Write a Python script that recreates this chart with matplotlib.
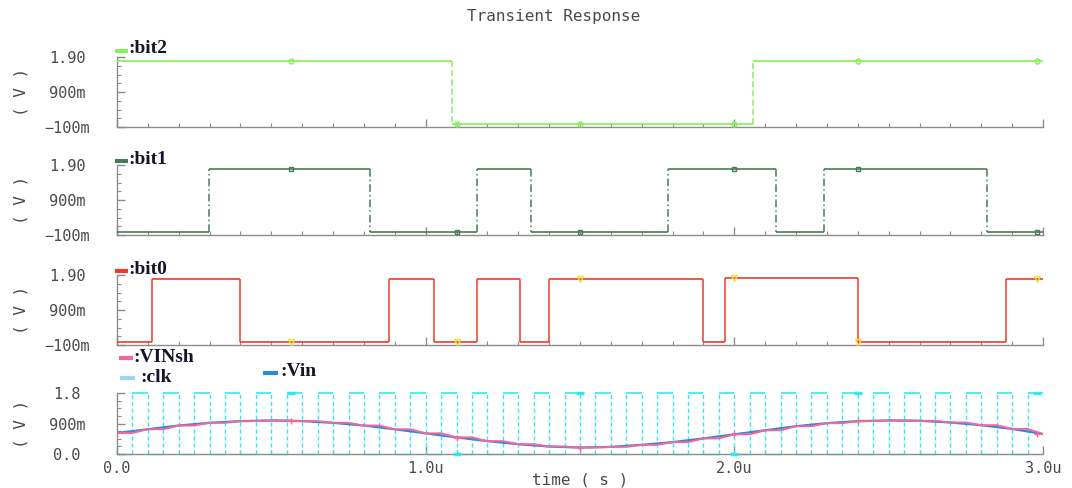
import numpy as np
import matplotlib
matplotlib.use("Agg")
import matplotlib.pyplot as plt
from matplotlib.lines import Line2D
from matplotlib.ticker import MultipleLocator

W, H = 1072, 488

# ---------------- data ----------------
title = "Transient Response"
xlabel = "time ( s )"
ylabel = "( V )"
x_ticks = [0.0, 1.0, 2.0, 3.0]
x_ticklabels = ["0.0", "1.0u", "2.0u", "3.0u"]
bit_yticks = [-0.1, 0.9, 1.9]
bit_yticklabels = ["\u2212100m", "900m", "1.90"]
ana_yticks = [0.0, 0.9, 1.8]
ana_yticklabels = ["0.0", "900m", "1.8"]

# digital outputs: transition times (us) and level held in each interval (V)
bit2_t = [0.0, 1.086, 2.060, 3.0]
bit2_v = [1.8, 0.0, 1.8]
bit1_t = [0.0, 0.298, 0.820, 1.165, 1.342, 1.786, 2.136, 2.290, 2.820, 3.0]
bit1_v = [0.0, 1.8, 0.0, 1.8, 0.0, 1.8, 0.0, 1.8, 0.0]
bit0_t = [0.0, 0.113, 0.400, 0.880, 1.028, 1.165, 1.307, 1.400, 1.898, 1.971,
          2.400, 2.880, 3.0]
bit0_v = [0.0, 1.8, 0.0, 1.8, 0.0, 1.8, 0.0, 1.8, 0.0, 1.82, 0.0, 1.8]

# clock edges (us)
clk_rise = [0.05, 0.15, 0.25, 0.35, 0.45, 0.55, 0.65, 0.75, 0.85, 0.95,
            1.05, 1.15, 1.25, 1.35, 1.45, 1.55, 1.65, 1.75, 1.85, 1.95,
            2.05, 2.15, 2.25, 2.35, 2.45, 2.55, 2.65, 2.75, 2.85, 2.95]
clk_fall = [0.10, 0.20, 0.30, 0.40, 0.50, 0.60, 0.70, 0.80, 0.90, 1.00,
            1.10, 1.20, 1.30, 1.40, 1.50, 1.60, 1.70, 1.80, 1.90, 2.00,
            2.10, 2.20, 2.30, 2.40, 2.50, 2.60, 2.70, 2.80, 2.90, 3.00]
clk_high = 1.8
clk_low = 0.0

# analog input (us, V)
vin_t = [0.0, 0.1, 0.2, 0.3, 0.4, 0.5, 0.6, 0.7, 0.8, 0.9, 1.0,
         1.1, 1.2, 1.3, 1.4, 1.5, 1.6, 1.7, 1.8, 1.9, 2.0,
         2.1, 2.2, 2.3, 2.4, 2.5, 2.6, 2.7, 2.8, 2.9, 3.0]
vin_v = [0.62, 0.73, 0.84, 0.92, 0.97, 0.99, 0.97, 0.92, 0.84, 0.73, 0.61,
         0.49, 0.38, 0.29, 0.22, 0.19, 0.21, 0.27, 0.35, 0.46, 0.58,
         0.70, 0.82, 0.91, 0.97, 0.99, 0.98, 0.93, 0.85, 0.74, 0.59]
# sample-and-hold output: value held after each clock fall
vinsh_hold = [0.73, 0.84, 0.92, 0.97, 0.99, 0.97, 0.92, 0.84, 0.73, 0.61,
              0.49, 0.38, 0.29, 0.22, 0.19, 0.21, 0.27, 0.35, 0.46, 0.58,
              0.70, 0.82, 0.91, 0.97, 0.99, 0.98, 0.93, 0.85, 0.74, 0.59]

marker_t = [0.563, 1.10, 1.50, 2.00, 2.40, 2.98]
vin_marker_v = [0.98, 0.47, 0.19, 0.58, 0.98, 0.58]
clk_marker_v = [1.8, 0.0, 1.8, 0.0, 1.8, 1.8]

# ---------------- style ----------------
C_BIT2 = "#86f05a"
C_BIT1 = "#4a7a56"
C_BIT0 = "#f03a2a"
C_BIT0_MK = "#f5e030"
C_CLK = "#35e6f0"
C_CLK_LEG = "#9fd8ee"
C_VINSH = "#f4679c"
C_VIN = "#2a88e0"
AX_C = "#8c8c8c"
TXT_C = "#4a4a4a"
LEG_C = "#14142a"
TICK_FONT = "DejaVu Sans Mono"
LEG_FONT = "Liberation Serif"

fig = plt.figure(figsize=(W / 100, H / 100), dpi=100)
fig.patch.set_facecolor("white")

left, right = 117, 1043
panels_px = [(57, 127), (165, 235), (275, 345), (393, 454)]
axes = []
for top, bot in panels_px:
    ax = fig.add_axes([left / W, 1 - bot / H, (right - left) / W, (bot - top) / H])
    axes.append(ax)


def style_axis(ax, yticks, yticklabels, ylim, minor_step, minor_off, show_x):
    ax.set_xlim(0, 3.0)
    ax.set_ylim(*ylim)
    for s in ("top", "right"):
        ax.spines[s].set_visible(False)
    for s in ("left", "bottom"):
        ax.spines[s].set_color(AX_C)
        ax.spines[s].set_linewidth(1.0)
    ax.set_xticks(x_ticks)
    ax.set_xticklabels(x_ticklabels if show_x else [""] * len(x_ticks),
                       fontfamily=TICK_FONT, fontsize=11, color=TXT_C)
    ax.xaxis.set_minor_locator(MultipleLocator(0.1))
    ax.set_yticks(yticks, yticklabels, ha="center",
                  fontfamily=TICK_FONT, fontsize=11, color=TXT_C)
    ax.yaxis.set_minor_locator(MultipleLocator(minor_step, offset=minor_off))
    ax.tick_params(axis="both", which="major", direction="in", color=AX_C,
                   width=1.0, length=6)
    ax.tick_params(axis="both", which="minor", direction="in", color=AX_C,
                   width=0.8, length=3)
    ax.tick_params(axis="x", which="major", pad=5)
    ax.tick_params(axis="y", which="major", pad=36)
    ax.set_ylabel(ylabel, fontfamily=TICK_FONT, fontsize=11.5, color=TXT_C)
    ax.yaxis.set_label_coords((29 - left) / (right - left), 0.5)
    ax.set_facecolor("none")


def draw_bits(ax, t, v, color, vstyle, marker, mcolor, msize):
    t = np.asarray(t)
    v = np.asarray(v)
    ax.vlines(t[1:-1], v[:-1], v[1:], colors=color, linewidth=1.1,
              linestyles=vstyle, zorder=3)
    ax.hlines(v, t[:-1], t[1:], colors=color, linewidth=1.2, zorder=4,
              clip_on=False)
    idx = np.searchsorted(t, marker_t, side="right") - 1
    idx = np.clip(idx, 0, len(v) - 1)
    ax.plot(marker_t, v[idx], ls="none", marker=marker, ms=msize,
            mfc="none", mec=mcolor, mew=1.0, zorder=5, clip_on=False)


for ax in axes[:3]:
    style_axis(ax, bit_yticks, bit_yticklabels, (-0.1, 1.9), 0.25, -0.1, False)
style_axis(axes[3], ana_yticks, ana_yticklabels, (0.0, 1.8), 0.225, 0.0, True)

draw_bits(axes[0], bit2_t, bit2_v, C_BIT2, (0, (4, 2)), "o", C_BIT2, 3.5)
draw_bits(axes[1], bit1_t, bit1_v, C_BIT1, (0, (5, 2, 1, 2)), "s", C_BIT1, 3.5)
draw_bits(axes[2], bit0_t, bit0_v, C_BIT0, "solid", "v", C_BIT0_MK, 4)

# clock
ax4 = axes[3]
n_clk = len(clk_rise)
low_start = [0.0] + clk_fall[:-1]
ax4.vlines(clk_rise, [clk_low] * n_clk, [clk_high] * n_clk, colors=C_CLK,
           linewidth=1.0, linestyles=(0, (3, 2)), zorder=2)
ax4.vlines(clk_fall[:-1], [clk_low] * (n_clk - 1), [clk_high] * (n_clk - 1),
           colors=C_CLK, linewidth=1.0, linestyles=(0, (3, 2)), zorder=2)
ax4.hlines([clk_high] * n_clk, clk_rise, clk_fall, colors=C_CLK, linewidth=1.2,
           zorder=2, clip_on=False)
ax4.hlines([clk_low] * n_clk, low_start, clk_rise, colors=C_CLK, linewidth=1.0,
           zorder=2, clip_on=False)
ax4.plot(marker_t, clk_marker_v, ls="none", marker="_", ms=6, mec=C_CLK,
         mew=2.5, zorder=5, clip_on=False)

# Vin (smooth) and VINsh (track/hold)
ax4.plot(vin_t, vin_v, color=C_VIN, lw=1.6, zorder=3)
sh_x = [vin_t[0]]
sh_y = [vin_v[0]]
prev = vin_v[0]
for r, f, h in zip(clk_rise, clk_fall, vinsh_hold):
    sh_x += [r, f]
    sh_y += [prev, h]
    prev = h
ax4.plot(sh_x, sh_y, color=C_VINSH, lw=1.4, zorder=4)
ax4.plot(marker_t, vin_marker_v, ls="none", marker="+", ms=5, mec=C_VINSH,
         mew=1.0, zorder=5)

# x label
ax4.set_xlabel(xlabel, fontfamily=TICK_FONT, fontsize=11.5, color=TXT_C,
               va="center")
ax4.xaxis.set_label_coords(0.5, -(480 - 454) / (454 - 393))

# title
fig.text(554 / W, 1 - 16 / H, title, ha="center", va="center",
         fontfamily=TICK_FONT, fontsize=11.5, color=TXT_C)


# legends (short line + bold label), positioned in pixels
def legend_entry(x0, x1, y, tx, ty, label, color):
    fig.add_artist(Line2D([x0 / W, x1 / W], [1 - y / H, 1 - y / H],
                          color=color, lw=3.0, solid_capstyle="butt"))
    fig.text(tx / W, 1 - ty / H, label, ha="left", va="center",
             fontfamily=LEG_FONT, fontweight="bold", fontsize=14,
             color=LEG_C)


legend_entry(115, 128, 50.5, 128, 48.5, ":bit2", C_BIT2)
legend_entry(115, 128, 160.5, 128, 159, ":bit1", C_BIT1)
legend_entry(115, 128, 270.5, 128, 269.5, ":bit0", C_BIT0)
legend_entry(119, 133, 358, 133, 357, ":VINsh", C_VINSH)
legend_entry(120, 135, 377.5, 140, 377, ":clk", C_CLK_LEG)
legend_entry(263, 278, 372.5, 280, 371.5, ":Vin", C_VIN)

fig.savefig("out.png", dpi=100, facecolor="white")
